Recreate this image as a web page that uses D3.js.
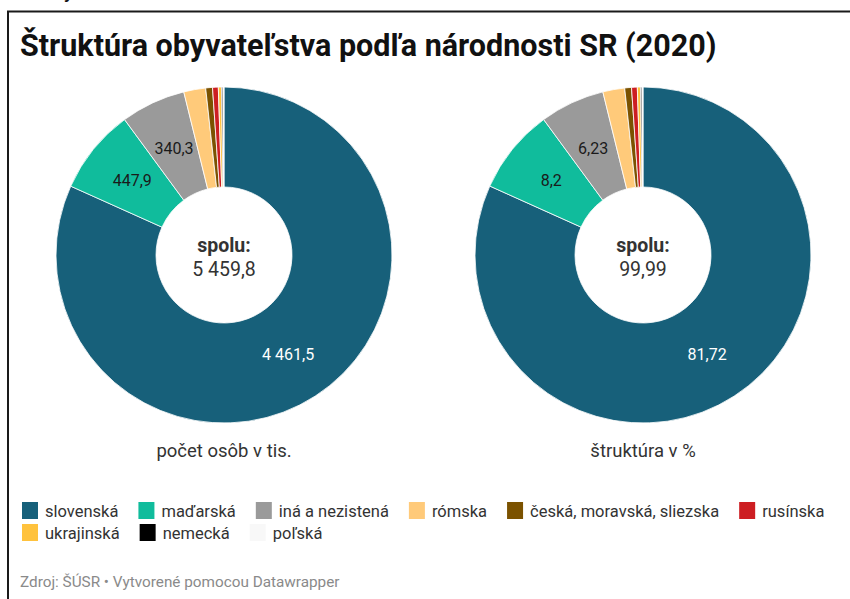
<!DOCTYPE html>
<html>
<head>
<meta charset="utf-8">
<script src="https://cdn.jsdelivr.net/npm/d3@7"></script>
<style>
  body { margin: 0; background: #fff; }
  svg { display: block; font-family: Roboto, sans-serif; }
</style>
</head>
<body>
<div id="chart"></div>
<script>
// data
var narodnosti = ['slovenská', 'maďarská', 'iná a nezistená', 'rómska', 'česká, moravská, sliezska', 'rusínska', 'ukrajinská', 'nemecká', 'poľská']
var pocetTis = [4461.5, 447.9, 340.3, 115.1, 35.5, 30.0, 16.4, 7.6, 5.5]
var strukturaPct = [81.72, 8.2, 6.23, 2.1, 0.65, 0.55, 0.3, 0.14, 0.1]
var farby = ['#17607a', '#10bc9c', '#9a9a9a', '#ffca7a', '#7b5200', '#cd1e22', '#ffc23d', '#000000', '#f8f8f8']
var popisy = ['počet osôb v tis.', 'štruktúra v %']

var W = 850, H = 599
var sk = d3.formatLocale({decimal: ',', thousands: '\u00a0', grouping: [3], currency: ['', ' €']})
var fmt = sk.format(',')

var svg = d3.select('#chart').append('svg').attr('width', W).attr('height', H)
svg.append('rect').attr('width', W).attr('height', H).attr('fill', '#fff')

// ramik okolo grafu
svg.append('text').attr('x', 64).attr('y', -3).attr('font-size', 22).attr('fill', '#111').text('y')
svg.append('path').attr('d', 'M8,' + H + 'V11.5H' + W).attr('fill', 'none').attr('stroke', '#1a1a1a').attr('stroke-width', 2)

svg.append('text').attr('x', 20).attr('y', 56)
  .attr('font-size', 30.5).attr('font-weight', 700).attr('fill', '#111')
  .text('Štruktúra obyvateľstva podľa národnosti SR (2020)')

var rOut = 168, rIn = 68
var pie = d3.pie().sort(null).value(function(d){ return d.v })
var arc = d3.arc().innerRadius(rIn).outerRadius(rOut)
var mid = (rIn + rOut) / 2
var arcLbl = d3.arc().innerRadius(mid).outerRadius(mid)

function donut(cx, values, decimals, caption) {
  var g = svg.append('g').attr('transform', 'translate(' + cx + ',255)')
  var data = values.map(function(v, i){ return {v: v, i: i} })
  var arcs = pie(data)
  var total = Math.round(d3.sum(values) * Math.pow(10, decimals)) / Math.pow(10, decimals)
  g.selectAll('path.slice').data(arcs).enter().append('path')
    .attr('class', 'slice')
    .attr('d', arc)
    .attr('fill', function(d){ return farby[d.data.i] })
    .attr('stroke', '#fff').attr('stroke-width', 0.8)
  g.selectAll('text.val').data(arcs.filter(function(d){ return d.data.v / d3.sum(values) > 0.05 }))
    .enter().append('text')
    .attr('class', 'val')
    .attr('transform', function(d){ return 'translate(' + arcLbl.centroid(d) + ')' })
    .attr('text-anchor', 'middle').attr('dy', '0.35em')
    .attr('font-size', 16)
    .attr('fill', function(d){ return d.data.i === 0 ? '#fff' : '#1a1a1a' })
    .text(function(d){ return fmt(d.data.v) })
  g.append('text').attr('text-anchor', 'middle').attr('y', -3)
    .attr('font-size', 19.5).attr('font-weight', 700).attr('fill', '#333').text('spolu:')
  g.append('text').attr('text-anchor', 'middle').attr('y', 21)
    .attr('font-size', 19.5).attr('fill', '#333').text(fmt(total))
  g.append('text').attr('text-anchor', 'middle').attr('y', 202)
    .attr('font-size', 18.5).attr('fill', '#333').text(caption)
}

donut(224, pocetTis, 1, popisy[0])
donut(643, strukturaPct, 2, popisy[1])

// legenda
var leg = svg.append('g').attr('class', 'legend')
var lx = 22, ly = 502, rowH = 22, maxX = 845
narodnosti.forEach(function(n, i) {
  var it = leg.append('g')
  it.append('rect').attr('width', 16).attr('height', 17).attr('fill', farby[i])
  var t = it.append('text').attr('x', 23).attr('y', 14.5).attr('font-size', 16.5).attr('fill', '#333').text(n)
  var w = 23 + t.node().getComputedTextLength()
  if (lx + w > maxX) { lx = 22; ly += rowH }
  it.attr('transform', 'translate(' + lx + ',' + ly + ')')
  lx += w + 20
})

svg.append('text').attr('x', 20).attr('y', 587)
  .attr('font-size', 15.3).attr('fill', '#8a8a8a')
  .text('Zdroj: ŠÚSR • Vytvorené pomocou Datawrapper')
</script>
</body>
</html>
